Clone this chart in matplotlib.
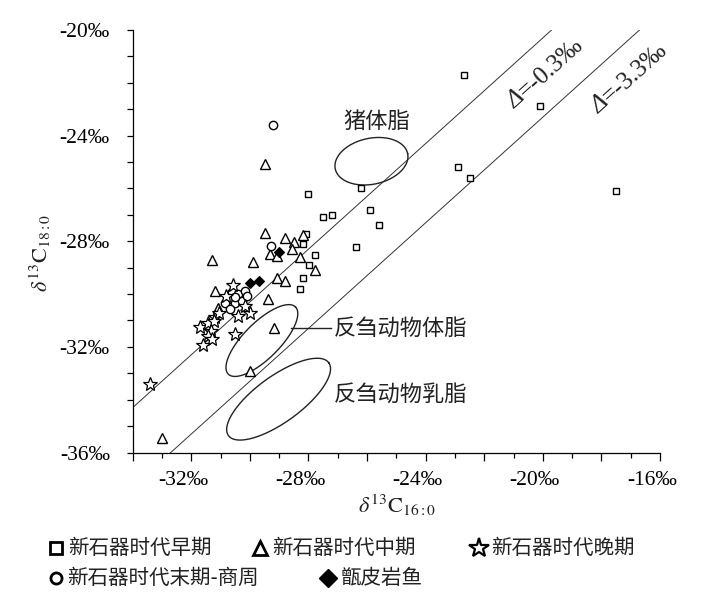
import numpy as np
import matplotlib
matplotlib.use('Agg')
import matplotlib.pyplot as plt
import matplotlib.transforms as mtransforms
from matplotlib.lines import Line2D
from matplotlib.ticker import MultipleLocator, FuncFormatter

plt.rcParams['font.family'] = ['Liberation Serif', 'Noto Sans CJK SC', 'DejaVu Sans']
plt.rcParams['mathtext.fontset'] = 'stix'

# ---- data (δ13C16:0, δ13C18:0 in ‰) ----
early_x = [-22.70, -20.10, -26.19, -28.00, -22.90, -22.50, -17.50, -25.89, -27.50,
           -27.20, -25.60, -26.39, -27.79, -28.09, -28.19, -27.97, -28.19, -28.28]
early_y = [-21.69, -22.88, -26.00, -26.21, -25.18, -25.59, -26.09, -26.81, -27.10,
           -27.01, -27.40, -28.21, -28.52, -27.71, -28.11, -28.90, -29.41, -29.81]

middle_x = [-29.50, -29.50, -28.79, -28.49, -28.19, -31.30, -29.90, -29.31, -29.08, -28.56,
            -28.28, -27.79, -29.08, -28.79, -31.19, -29.38, -31.09, -29.19, -29.99, -33.00]
middle_y = [-25.08, -27.67, -27.88, -28.01, -27.75, -28.70, -28.80, -28.48, -28.56, -28.30,
            -28.58, -29.09, -29.39, -29.50, -29.88, -30.19, -30.53, -31.29, -32.91, -35.46]

late_x = [-33.41, -30.59, -31.70, -31.42, -31.19, -31.07, -31.21, -31.33, -31.42, -31.30,
          -31.59, -30.39, -29.99, -30.18, -30.50, -30.81]
late_y = [-33.41, -29.65, -31.24, -31.11, -30.86, -30.70, -31.01, -31.39, -31.60, -31.70,
          -31.94, -30.82, -30.71, -30.46, -31.50, -30.06]

final_x = [-29.21, -29.27, -30.62, -30.73, -30.39, -30.16, -30.84, -30.50, -30.27, -30.67,
           -30.10, -30.50]
final_y = [-23.60, -28.17, -29.94, -30.19, -30.00, -29.88, -30.32, -30.32, -30.25, -30.57,
           -30.06, -30.13]

fish_x = [-29.01, -30.00, -29.69]
fish_y = [-28.42, -29.59, -29.52]

delta_offsets = [-0.3, -3.3]
delta_values = ['=-0.3‰', '=-3.3‰']

x_ticks = [-32, -28, -24, -20, -16]
y_ticks = [-36, -32, -28, -24, -20]

legend_labels = ['新石器时代早期', '新石器时代中期', '新石器时代晚期',
                 '新石器时代末期-商周', '甑皮岩鱼']

W, H = 727, 604
fig = plt.figure(figsize=(W / 100, H / 100), dpi=100)
ax = fig.add_axes([132.7 / W, 1 - 452.5 / H, 527.3 / W, 422.5 / H])
ax.set_xlim(-34, -16)
ax.set_ylim(-36, -20)

for s in ['top', 'right']:
    ax.spines[s].set_visible(False)
for s in ['left', 'bottom']:
    ax.spines[s].set_linewidth(0.9)

ax.xaxis.set_major_locator(MultipleLocator(2))
ax.xaxis.set_minor_locator(MultipleLocator(1))
ax.yaxis.set_major_locator(MultipleLocator(4))
ax.yaxis.set_minor_locator(MultipleLocator(1))

ax.xaxis.set_major_formatter(FuncFormatter(lambda v, p: f'{int(round(v))}‰' if int(round(v)) in x_ticks else ''))
ax.yaxis.set_major_formatter(FuncFormatter(lambda v, p: f'{int(round(v))}‰' if int(round(v)) in y_ticks else ''))
ax.tick_params(axis='x', which='major', length=6, width=0.9, direction='out', pad=7, labelsize=15.5)
ax.tick_params(axis='x', which='minor', length=3.5, width=0.9, direction='out')
ax.tick_params(axis='y', which='major', length=4.5, width=0.9, direction='out', pad=12, labelsize=15.5)
ax.tick_params(axis='y', which='minor', length=4.5, width=0.9, direction='out')

shift = mtransforms.ScaledTranslation(-0.08, 0, fig.dpi_scale_trans)
for lbl in ax.get_xticklabels():
    lbl.set_transform(lbl.get_transform() + shift)

# Δ lines
xx = np.linspace(-34, -16, 200)
for off in delta_offsets:
    ax.plot(xx, xx + off, color='#333333', lw=0.7, zorder=1)

# ellipses drawn in pixel space around a data centre
def ellipse_xy(cx, cy, a_px, b_px, ang_deg):
    t = np.linspace(0, 2 * np.pi, 300)
    c = ax.transData.transform((cx, cy))
    th = np.deg2rad(ang_deg)
    px = c[0] + a_px * np.cos(t) * np.cos(th) - b_px * np.sin(t) * np.sin(th)
    py = c[1] + a_px * np.cos(t) * np.sin(th) + b_px * np.sin(t) * np.cos(th)
    return ax.transData.inverted().transform(np.column_stack([px, py]))

for (cx, cy, a, b, ang) in [(-25.85, -24.97, 37, 23, 12),
                            (-29.59, -31.76, 47.5, 18, 45),
                            (-29.02, -33.98, 62, 23, 36)]:
    e = ellipse_xy(cx, cy, a, b, ang)
    ax.plot(e[:, 0], e[:, 1], color='#222222', lw=1.0, zorder=2)

cjk = ['Noto Sans CJK SC', 'DejaVu Sans']
ax.plot([-28.59, -27.22], [-31.28, -31.28], color='#222222', lw=1.0, zorder=2)
ax.text(-27.14, -31.31, '反刍动物体脂', family=cjk, fontsize=16, ha='left', va='center', color='#222222')
ax.text(-27.14, -33.78, '反刍动物乳脂', family=cjk, fontsize=16, ha='left', va='center', color='#222222')
ax.text(-25.68, -23.44, '猪体脂', family=cjk, fontsize=16, ha='center', va='center', color='#222222')

# Δ labels: italic Δ + upright value, joined at one anchor point
for (jx, jy), val in zip([(-20.78, -22.375), (-17.91, -22.58)], delta_values):
    ax.text(jx, jy, 'Δ', family=['Liberation Serif'], style='italic', fontsize=18, rotation=42,
            rotation_mode='anchor', ha='right', va='center_baseline', color='#222222')
    ax.text(jx, jy, val, family=['Liberation Serif'], fontsize=18, rotation=42,
            rotation_mode='anchor', ha='left', va='center_baseline', color='#222222')

# data markers
ax.plot(early_x, early_y, ls='none', marker='s', ms=4.6, mfc='white', mec='black', mew=1.0, zorder=4)
ax.plot(middle_x, middle_y, ls='none', marker='^', ms=7, mfc='white', mec='black', mew=1.0, zorder=4)
ax.plot(final_x, final_y, ls='none', marker='o', ms=6, mfc='white', mec='black', mew=1.0, zorder=5)
ax.plot(late_x, late_y, ls='none', marker='*', ms=10, mfc='white', mec='black', mew=0.9, zorder=6)
ax.plot(fish_x, fish_y, ls='none', marker='D', ms=5, mfc='black', mec='black', mew=0.8, zorder=7)

# axis titles
fig.text(40 / W, 1 - 253 / H, '$\\delta^{13}\\mathrm{C}_{18:0}$', rotation=90, fontsize=16,
         ha='center', va='center', color='#222222')
fig.text(397 / W, 1 - 505 / H, '$\\delta^{13}\\mathrm{C}_{16:0}$', fontsize=16,
         ha='center', va='center', color='#222222')

# legend (manual layout)
def fig_marker(xp, yp, **kw):
    fig.add_artist(Line2D([xp / W], [1 - yp / H], transform=fig.transFigure, ls='none', **kw))

def fig_label(xp, yp, s):
    fig.text(xp / W, 1 - yp / H, s, family=cjk, fontsize=14.8, ha='left', va='center', color='#222222')

fig_marker(56, 548, marker='s', ms=8, mfc='white', mec='black', mew=2)
fig_label(68, 548, legend_labels[0])
fig_marker(260, 548, marker='^', ms=10, mfc='white', mec='black', mew=2)
fig_label(272, 548, legend_labels[1])
fig_marker(479, 548, marker='*', ms=15, mfc='white', mec='black', mew=1.6)
fig_label(491, 548, legend_labels[2])
fig_marker(56, 578, marker='o', ms=8, mfc='white', mec='black', mew=2)
fig_label(67, 578, legend_labels[3])
fig_marker(328, 578, marker='D', ms=9, mfc='black', mec='black', mew=1)
fig_label(341, 578, legend_labels[4])

fig.savefig('out.png', dpi=100)
